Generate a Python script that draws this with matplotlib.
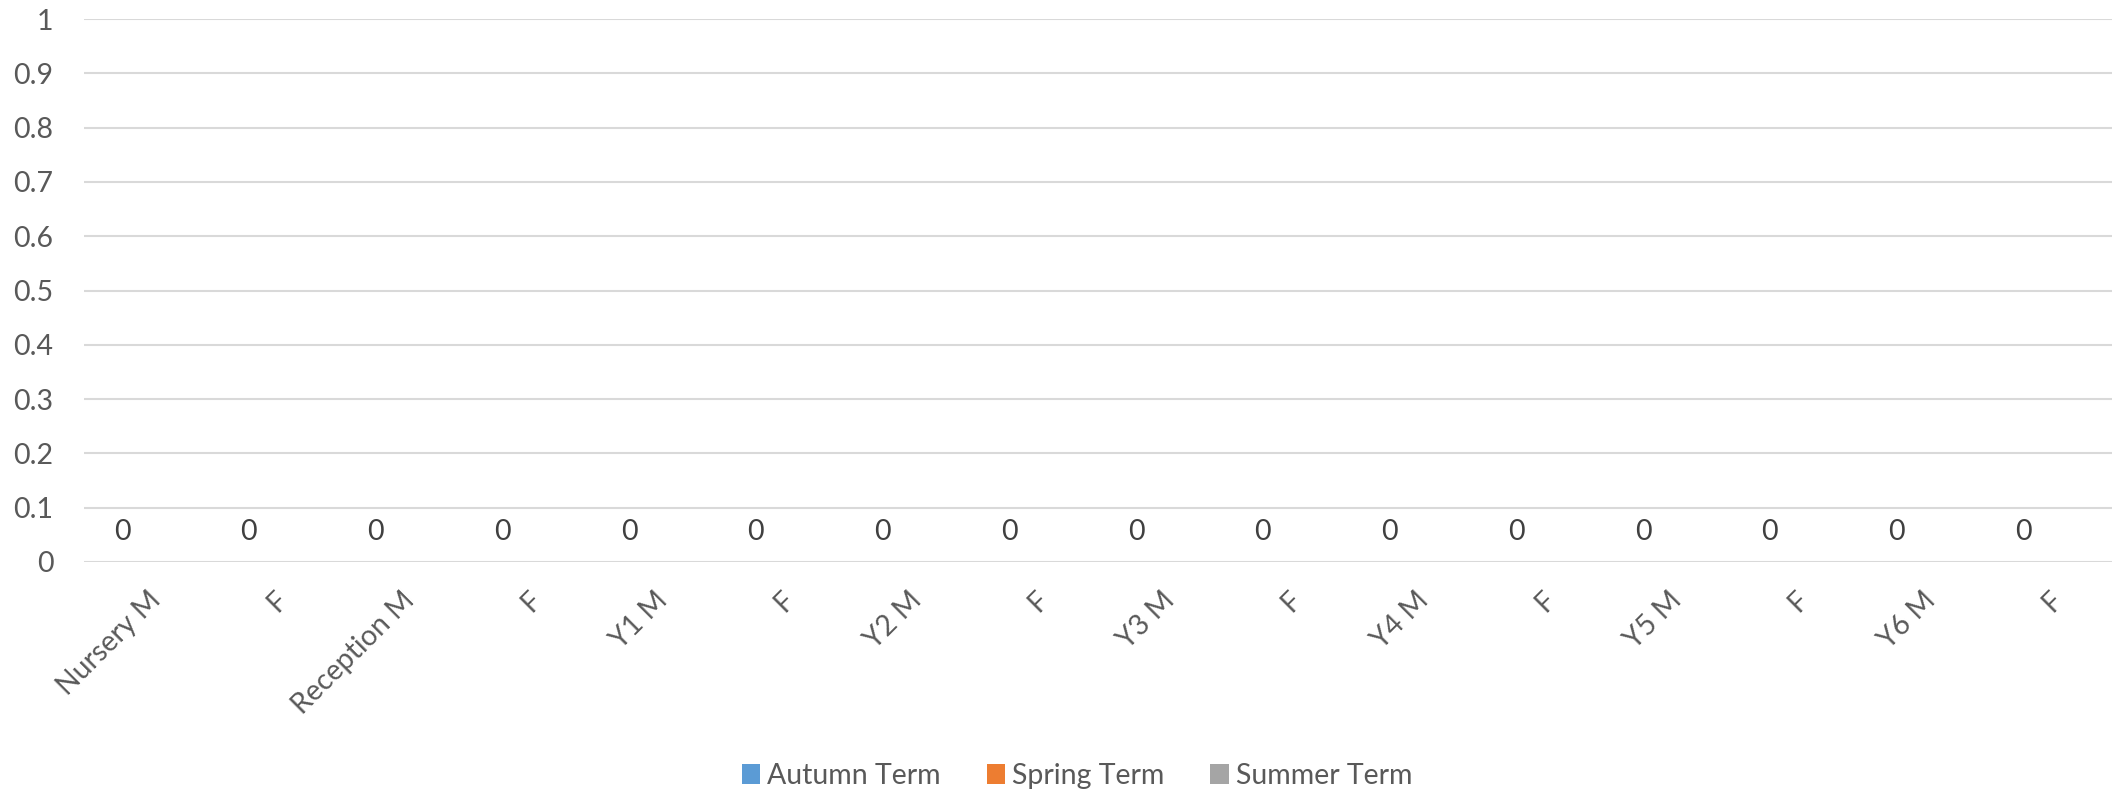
import matplotlib.pyplot as plt
import numpy as np

plt.rcParams['font.family'] = ['Lato', 'DejaVu Sans']

categories = ['Nursery M', 'F', 'Reception M', 'F', 'Y1 M', 'F', 'Y2 M', 'F',
              'Y3 M', 'F', 'Y4 M', 'F', 'Y5 M', 'F', 'Y6 M', 'F']
autumn = [0, 0, 0, 0, 0, 0, 0, 0, 0, 0, 0, 0, 0, 0, 0, 0]
spring = [0, 0, 0, 0, 0, 0, 0, 0, 0, 0, 0, 0, 0, 0, 0, 0]
summer = [0, 0, 0, 0, 0, 0, 0, 0, 0, 0, 0, 0, 0, 0, 0, 0]
series_names = ['Autumn Term', 'Spring Term', 'Summer Term']
colors = ['#5b9bd5', '#ed7d31', '#a5a5a5']
text_col = '#595959'
fs = 20.5

fig = plt.figure(figsize=(21.12, 7.94), dpi=100)
ax = fig.add_axes([84 / 2112, 1 - 562 / 794, 1 - 84 / 2112, (562 - 19) / 794])

x = np.arange(len(categories))
w = 0.2
for i, (vals, name, c) in enumerate(zip([autumn, spring, summer], series_names, colors)):
    ax.bar(x + (i - 1) * w, vals, w, color=c, label=name)

# only the first series shows data labels
for xi, v in zip(x - w, autumn):
    ax.annotate(f'{v:g}', (xi, v), xytext=(0, 12), textcoords='offset points',
                ha='center', va='bottom', fontsize=fs, color='#404040')

ax.set_xlim(-0.5, len(categories) - 0.5)
ax.set_ylim(0, 1)
ax.set_yticks(np.arange(0, 1.01, 0.1))
ax.set_yticklabels(['0', '0.1', '0.2', '0.3', '0.4', '0.5', '0.6', '0.7', '0.8', '0.9', '1'])
ax.set_xticks(x)
ax.set_xticklabels(categories, rotation=45, ha='right', va='top', rotation_mode='anchor')
ax.tick_params(axis='both', length=0, labelsize=fs, labelcolor=text_col)
ax.tick_params(axis='y', pad=22)
ax.tick_params(axis='x', pad=18)
ax.grid(axis='y', color='#d9d9d9', linewidth=1.5)
ax.set_axisbelow(True)
for s in ax.spines.values():
    s.set_visible(False)

fig.legend(loc='center', bbox_to_anchor=(1077 / 2112, 1 - 776 / 794), ncol=3,
           frameon=False, fontsize=fs, labelcolor=text_col, handlelength=0.65,
           handleheight=0.65, handletextpad=0.25, columnspacing=1.6)

fig.savefig('out.png', dpi=100)
